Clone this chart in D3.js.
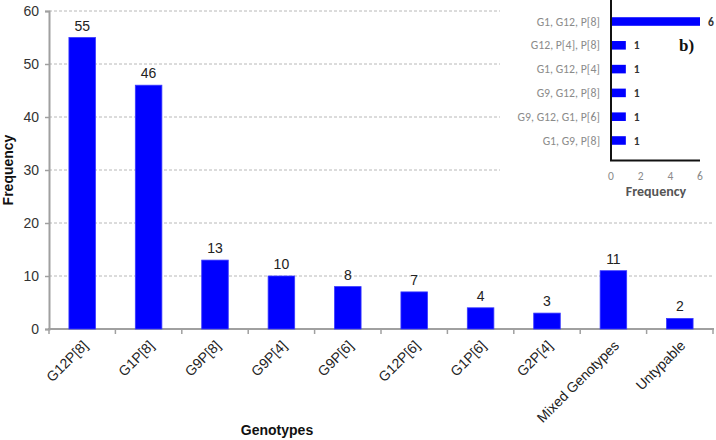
<!DOCTYPE html>
<html><head><meta charset="utf-8">
<script src="https://cdn.jsdelivr.net/npm/d3@7"></script>
<style>body{margin:0;background:#fff}svg{display:block}</style>
</head><body>
<svg id="c" width="716" height="440"></svg>
<script>
const genotypes = ["G12P[8]","G1P[8]","G9P[8]","G9P[4]","G9P[6]","G12P[6]","G1P[6]","G2P[4]","Mixed Genotypes","Untypable"];
const frequency = [55,46,13,10,8,7,4,3,11,2];
const yTicks = [0,10,20,30,40,50,60];
const mixedTypes = ["G1, G12, P[8]","G12, P[4], P[8]","G1, G12, P[4]","G9, G12, P[8]","G9, G12, G1, P[6]","G1, G9, P[8]"];
const mixedFreq = [6,1,1,1,1,1];
const insetTicks = [0,2,4,6];

const svg = d3.select("#c");
const x = d3.scaleBand().domain(genotypes).range([49,713]).paddingInner(0.6).paddingOuter(0.3);
const y = d3.scaleLinear().domain([0,60]).range([329,11]);
const font = "'Liberation Sans', Arial, sans-serif";

// gridlines
svg.append("g").selectAll("line").data(yTicks.filter(d=>d>0)).join("line")
  .attr("x1",49).attr("x2",713).attr("y1",d=>y(d)).attr("y2",d=>y(d))
  .attr("stroke","#b8b8b8").attr("stroke-width",1).attr("stroke-dasharray","3,2");

// y axis
const ya = svg.append("g").attr("transform","translate(49,0)")
  .call(d3.axisLeft(y).tickValues(yTicks).tickSize(4).tickPadding(6));
ya.select(".domain").attr("stroke","#a0a0a0").attr("stroke-width",2);
ya.selectAll(".tick line").attr("stroke","#a0a0a0").attr("stroke-width",1.5);
ya.selectAll("text").attr("font-family",font).attr("font-size",14).attr("fill","#333");

// x axis line and boundary ticks
svg.append("line").attr("x1",48).attr("x2",714).attr("y1",y(0)).attr("y2",y(0))
  .attr("stroke","#a0a0a0").attr("stroke-width",2);
const step = x.step();
const bounds = genotypes.map(g=>x(g)+x.bandwidth()/2-step/2).concat([x(genotypes[genotypes.length-1])+x.bandwidth()/2+step/2]);
svg.append("g").selectAll("line").data(bounds).join("line")
  .attr("x1",d=>d).attr("x2",d=>d).attr("y1",y(0)).attr("y2",y(0)+5)
  .attr("stroke","#a0a0a0").attr("stroke-width",1.5);

// bars
svg.append("g").selectAll("rect").data(genotypes).join("rect")
  .attr("x",d=>x(d)).attr("width",x.bandwidth())
  .attr("y",(d,i)=>y(frequency[i])).attr("height",(d,i)=>y(0)-y(frequency[i]))
  .attr("fill","#0000ff").attr("stroke","#3a3aff").attr("stroke-width",0.8);

// value labels
svg.append("g").selectAll("text").data(genotypes).join("text")
  .attr("x",d=>x(d)+x.bandwidth()/2).attr("y",(d,i)=>y(frequency[i])-7)
  .attr("text-anchor","middle").attr("font-family",font).attr("font-size",14).attr("fill","#222")
  .text((d,i)=>frequency[i]);

// x labels
svg.append("g").selectAll("text").data(genotypes).join("text")
  .attr("transform",d=>`translate(${x(d)+x.bandwidth()/2+3},${y(0)+14}) rotate(-45)`)
  .attr("text-anchor","end").attr("font-family",font).attr("font-size",14).attr("fill","#222")
  .attr("dy","0.35em").text(d=>d);

// axis titles
svg.append("text").attr("transform","translate(13,170) rotate(-90)").attr("text-anchor","middle")
  .attr("font-family",font).attr("font-size",14).attr("font-weight","bold").attr("fill","#111").text("Frequency");
svg.append("text").attr("x",277).attr("y",435).attr("text-anchor","middle")
  .attr("font-family",font).attr("font-size",14).attr("font-weight","bold").attr("fill","#111").text("Genotypes");

// inset
const inset = svg.append("g");
inset.append("rect").attr("x",500).attr("y",0).attr("width",216).attr("height",200).attr("fill","#fff");
const ix = d3.scaleLinear().domain([0,6]).range([611,700]);
const iy = d3.scaleBand().domain(mixedTypes).range([2,160]).padding(0.64);
const ifont = "Carlito, 'Open Sans', 'Noto Sans', sans-serif";
inset.selectAll("rect.b").data(mixedTypes).join("rect").attr("class","b")
  .attr("x",ix(0)).attr("y",d=>iy(d)).attr("height",iy.bandwidth())
  .attr("width",(d,i)=>ix(mixedFreq[i])-ix(0)).attr("fill","#0000ff");
inset.append("path").attr("d",`M${ix(0)},0V160.5H${ix(6)}`).attr("fill","none").attr("stroke","#111").attr("stroke-width",2);
inset.selectAll("text.cat").data(mixedTypes).join("text").attr("class","cat")
  .attr("x",600).attr("y",d=>iy(d)+iy.bandwidth()/2).attr("dy","0.35em").attr("text-anchor","end")
  .attr("font-family",ifont).attr("font-size",11.8).attr("fill","#8a8a8a").text(d=>d);
inset.selectAll("text.val").data(mixedTypes).join("text").attr("class","val")
  .attr("x",(d,i)=>ix(mixedFreq[i])+8).attr("y",d=>iy(d)+iy.bandwidth()/2).attr("dy","0.35em")
  .attr("font-family",ifont).attr("font-size",11.5).attr("font-weight","bold").attr("fill","#333").text((d,i)=>mixedFreq[i]);
inset.selectAll("text.tk").data(insetTicks).join("text").attr("class","tk")
  .attr("x",d=>ix(d)).attr("y",180).attr("text-anchor","middle")
  .attr("font-family",ifont).attr("font-size",11.5).attr("fill","#8a8a8a").text(d=>d);
inset.append("text").attr("x",656).attr("y",196).attr("text-anchor","middle")
  .attr("font-family",ifont).attr("font-size",14).attr("font-weight","bold").attr("fill","#555").text("Frequency");
inset.append("text").attr("x",679).attr("y",51)
  .attr("font-family","'Liberation Serif', 'DejaVu Serif', serif").attr("font-size",17).attr("font-weight","bold").attr("fill","#111").text("b)");
</script>
</body></html>
